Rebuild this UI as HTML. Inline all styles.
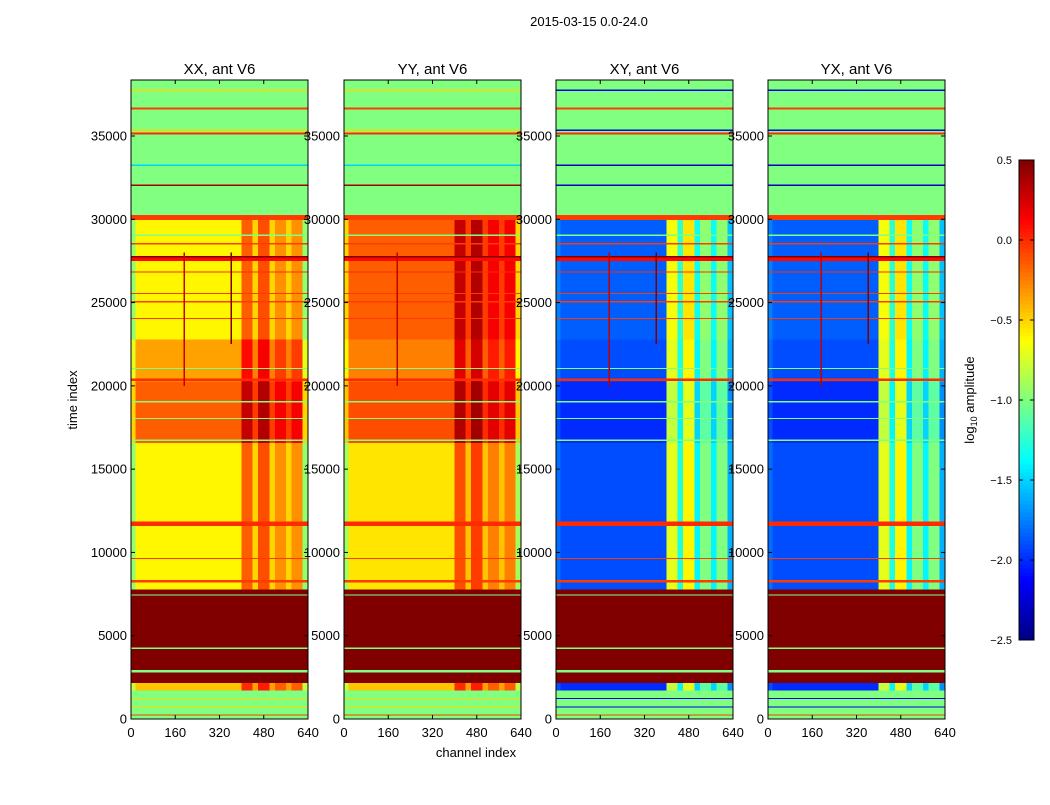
<!DOCTYPE html>
<html><head><meta charset="utf-8"><style>
body{margin:0;background:#fff;}
svg text{font-family:"Liberation Sans",sans-serif;fill:#000;}
</style></head><body>
<svg id="fig" width="1050" height="800" xmlns="http://www.w3.org/2000/svg">
<rect width="1050" height="800" fill="#fff"/>
<text x="589" y="26" font-size="13" text-anchor="middle">2015-03-15 0.0-24.0</text>
<text x="476" y="757" font-size="13" text-anchor="middle">channel index</text>
<text x="77" y="400" font-size="13" text-anchor="middle" transform="rotate(-90 77 400)">time index</text>
<g id="panels"></g>
<g id="cbar"></g>
<text x="974" y="400" font-size="13" text-anchor="middle" transform="rotate(-90 974 400)">log<tspan font-size="9" dy="3">10</tspan><tspan dy="-3"> amplitude</tspan></text>
</svg>
<script>
// ---- data ----
const panelTitles = ["XX, ant V6","YY, ant V6","XY, ant V6","YX, ant V6"];
const bandStart = [0,1750,2200,7800,16600,20300,22800,30000,30300];
const bandEnd   = [1750,2200,7800,16600,20300,22800,30000,30300,38400];
const bandActive= [0,1,0,1,1,1,1,0,0];
const xxBase = [-1,-0.45,0.6,-0.6,-0.15,-0.35,-0.6,-0.05,-1];
const yyBase = [-1,-0.45,0.6,-0.55,-0.1,-0.25,-0.15,-0.05,-1];
const xyBase = [-1,-2.0,0.6,-1.9,-2.0,-1.9,-1.85,-0.05,-1];
const yxBase = [-1,-2.0,0.6,-1.9,-2.0,-1.9,-1.85,-0.05,-1];
const chanEdges = [0,16,400,440,460,500,520,560,580,620,640];
const autoBoost = [-0.35,0,0.45,0.1,0.5,0.1,0.3,0.1,0.3,-0.35];
const crossBoost = [0.1,0,1.2,0.6,1.3,0.5,0.9,0.5,0.9,0.3];
const lineT    = [200,700,1200,2800,4200,7400,8200,9600,11600,16700,18000,19000,20300,21000,24000,25000,25500,26800,27500,27700,28500,29000,32000,33200,35100,35300,36600,37700];
const lineW    = [80,60,60,150,80,80,150,80,250,80,80,80,150,80,80,80,80,80,250,100,80,80,100,100,120,100,100,80];
const lineAuto = [-0.05,-0.5,-0.5,-1,-1,-1,-0.05,-0.05,0.0,-1,-1,-1,0.0,-1,-0.05,-0.05,-0.05,0.0,0.1,0.5,-0.05,-1,0.4,-1.5,0.0,-0.5,-0.05,-0.5];
const lineCross= [-0.05,-2.2,-2.2,-1,-1,-1,-0.05,-0.05,0.0,-1,-1,-1,0.0,-1,-0.05,-0.05,-0.05,0.0,0.1,0.5,-0.05,-1,-2.3,-2.3,0.0,-2.2,-0.05,-2.2];
const spikeChan = [190,360];
const spikeT0 = [20000,22500];
const spikeT1 = [28000,28000];
const spikeVal = [0.3,0.5];
const yTicks = [0,5000,10000,15000,20000,25000,30000,35000];
const xTicks = [0,160,320,480,640];
const cbTicks = [0.5,0.0,-0.5,-1.0,-1.5,-2.0,-2.5];
// ---- layout ----
const panelX = [131,344,556,768], PW=177, PT=80, PB=719;
const NS="http://www.w3.org/2000/svg";
function yS(t){return PB - t*(583/35000);}
function xS(i,c){return panelX[i] + c*PW/640;}
function jet(v){let t=(v+2.5)/3;t=Math.max(0,Math.min(1,t));
 const f=x=>Math.round(255*Math.max(0,Math.min(1,1.5-Math.abs(x))));
 return `rgb(${f(4*t-3)},${f(4*t-2)},${f(4*t-1)})`;}
function mk(tag,attrs,parent){const e=document.createElementNS(NS,tag);for(const k in attrs)e.setAttribute(k,attrs[k]);parent.appendChild(e);return e;}
const panels=document.getElementById('panels');
const bases=[xxBase,yyBase,xyBase,yxBase];
panelX.forEach((px,i)=>{
 const g=mk('g',{},panels);
 
 
 const cross=i>=2, boost=cross?crossBoost:autoBoost;
 const hm=mk('g',{'shape-rendering':'crispEdges'},g);
 
 
 bandStart.forEach((t0,b)=>{
  for(let s=0;s<chanEdges.length-1;s++){
   let v=bases[i][b]+(bandActive[b]?boost[s]:0);
   const r=mk('rect',{x:xS(i,chanEdges[s]),y:yS(bandEnd[b]),width:xS(i,chanEdges[s+1])-xS(i,chanEdges[s])+0.5,height:yS(bandStart[b])-yS(bandEnd[b])+0.5,fill:jet(v)},hm);
   
   
  }
 });
 lineT.forEach((t,k)=>{
  const v=cross?lineCross[k]:lineAuto[k];
  const h=Math.max(1,yS(t)-yS(t+lineW[k]));
  const r=mk('rect',{x:px,y:yS(t+lineW[k]),width:PW,height:h,fill:jet(v)},hm);
  
  
 });
 if(i!==1){spikeChan.forEach((c,k)=>{
  const r=mk('rect',{x:xS(i,c),y:yS(spikeT1[k]),width:1.5,height:yS(spikeT0[k])-yS(spikeT1[k]),fill:jet(spikeVal[k])},hm);
  
  
 });} else {
  const r=mk('rect',{x:xS(i,190),y:yS(28000),width:1.5,height:yS(20000)-yS(28000),fill:jet(0.3)},hm);
  
  
 }
 const fr=mk('rect',{x:px,y:PT,width:PW,height:PB-PT,fill:'none',stroke:'#000','stroke-width':1},g);
 
 
 const tt=mk('text',{x:px+PW/2,y:74,'font-size':15,'text-anchor':'middle'},g);
 tt.textContent=panelTitles[i];
 
 
 yTicks.forEach(t=>{
  const y=yS(t);
  mk('line',{x1:px,x2:px+4,y1:y,y2:y,stroke:'#000'},g);
  mk('line',{x1:px+PW-4,x2:px+PW,y1:y,y2:y,stroke:'#000'},g);
  const l=mk('text',{x:px-4,y:y+4.5,'font-size':13,'text-anchor':'end'},g);
  l.textContent=t;
  
  
 });
 xTicks.forEach(c=>{
  const x=xS(i,c);
  mk('line',{x1:x,x2:x,y1:PB,y2:PB-4,stroke:'#000'},g);
  mk('line',{x1:x,x2:x,y1:PT,y2:PT+4,stroke:'#000'},g);
  const l=mk('text',{x:x,y:737,'font-size':13,'text-anchor':'middle'},g);
  l.textContent=c;
  
  
 });
});
// colorbar
const cb=document.getElementById('cbar');
const CX=1019,CW=15,CT=160,CB=640;
for(let k=0;k<120;k++){
 const v=-2.5+3*(k+0.5)/120;
 const yy=CB-(k+1)*(CB-CT)/120;
 mk('rect',{x:CX,y:yy,width:CW,height:(CB-CT)/120+0.6,fill:jet(v),'shape-rendering':'crispEdges'},cb);
}
mk('rect',{x:CX,y:CT,width:CW,height:CB-CT,fill:'none',stroke:'#000'},cb);
cbTicks.forEach(v=>{
 const y=CB-(v+2.5)/3*(CB-CT);
 mk('line',{x1:CX,x2:CX+4,y1:y,y2:y,stroke:'#000'},cb);
 mk('line',{x1:CX+CW-4,x2:CX+CW,y1:y,y2:y,stroke:'#000'},cb);
 const l=mk('text',{x:1012,y:y+4,'font-size':11,'text-anchor':'end'},cb);
 l.textContent=(v<0?'\u2212':'')+Math.abs(v).toFixed(1);
 
 
});
</script>
</body></html>
